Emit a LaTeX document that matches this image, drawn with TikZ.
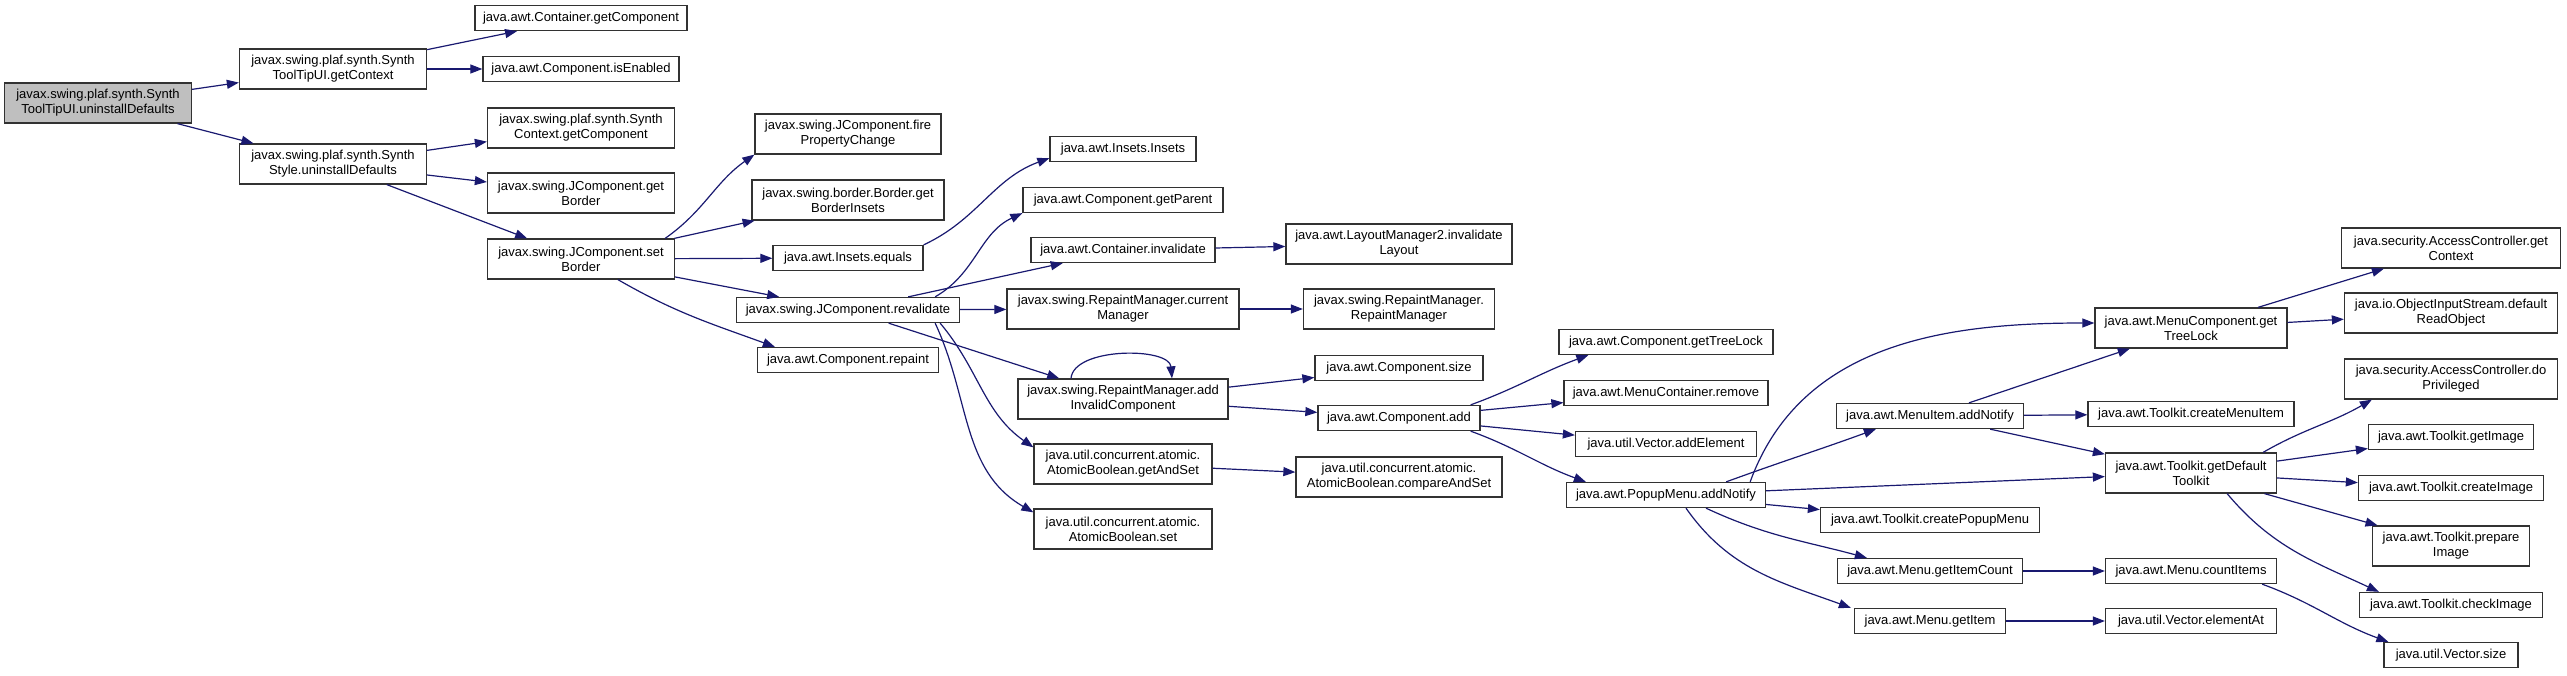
\documentclass[tikz,border=0pt]{standalone}
\usepackage{fontspec}
\setmainfont{Liberation Sans}
\usepackage{tikz}
\usetikzlibrary{arrows.meta}
\definecolor{midblue}{RGB}{25,25,112}
\definecolor{boxline}{RGB}{50,50,50}
\definecolor{rootgray}{RGB}{191,191,191}

\begin{document}
\begin{tikzpicture}[x=1pt,y=-1pt,font=\fontsize{13}{15}\selectfont]
\tikzstyle{fn}=[draw=boxline,line width=1.3pt,fill=white,inner sep=0pt,align=center]
\tikzstyle{fn1}=[fn,minimum height=25pt]
\tikzstyle{fn2}=[fn,minimum height=40pt]
\tikzstyle{root fn}=[fn2,fill=rootgray]
\tikzstyle{call}=[draw=midblue,line width=1.2pt,-{Triangle[length=12pt,width=9pt]}]

\useasboundingbox (0,0) rectangle (2567,675);

% column 1 and 2
\node(root)[root fn,minimum width=187pt] at (98,103) {javax.swing.plaf.synth.Synth\\ToolTipUI.uninstallDefaults};
\node(getctx)[fn2,minimum width=187pt] at (333,69) {javax.swing.plaf.synth.Synth\\ToolTipUI.getContext};
\node(sstyle)[fn2,minimum width=187pt] at (333,164) {javax.swing.plaf.synth.Synth\\Style.uninstallDefaults};

% column 3
\node(cgetcomp)[fn1,minimum width=212pt] at (581,18) {java.awt.Container.getComponent};
\node(isenabled)[fn1,minimum width=196pt] at (581,69) {java.awt.Component.isEnabled};
\node(scgetcomp)[fn2,minimum width=187pt] at (581,128) {javax.swing.plaf.synth.Synth\\Context.getComponent};
\node(getborder)[fn2,minimum width=187pt] at (581,193) {javax.swing.JComponent.get\\Border};
\node(setborder)[fn2,minimum width=187pt] at (581,259) {javax.swing.JComponent.set\\Border};

% column 4
\node(fireprop)[fn2,minimum width=186pt] at (848,134) {javax.swing.JComponent.fire\\PropertyChange};
\node(borderins)[fn2,minimum width=192pt] at (848,200) {javax.swing.border.Border.get\\BorderInsets};
\node(insequals)[fn1,minimum width=150pt] at (848,258) {java.awt.Insets.equals};
\node(revalidate)[fn1,minimum width=223pt] at (848,310) {javax.swing.JComponent.revalidate};
\node(repaint)[fn1,minimum width=181pt] at (848,360) {java.awt.Component.repaint};

% column 5
\node(insets)[fn1,minimum width=146pt] at (1123,149) {java.awt.Insets.Insets};
\node(getparent)[fn1,minimum width=200pt] at (1123,200) {java.awt.Component.getParent};
\node(cinvalidate)[fn1,minimum width=184pt] at (1123,250) {java.awt.Container.invalidate};
\node(curmgr)[fn2,minimum width=232pt] at (1123,309) {javax.swing.RepaintManager.current\\Manager};
\node(addinvalid)[fn2,minimum width=210pt] at (1123,399) {javax.swing.RepaintManager.add\\InvalidComponent};
\node(getandset)[fn2,minimum width=178pt] at (1123,464) {java.util.concurrent.atomic.\\AtomicBoolean.getAndSet};
\node(abset)[fn2,minimum width=178pt] at (1123,529) {java.util.concurrent.atomic.\\AtomicBoolean.set};

% column 6
\node(invlayout)[fn2,minimum width=226pt] at (1399,244) {java.awt.LayoutManager2.invalidate\\Layout};
\node(rmrm)[fn2,minimum width=191pt] at (1399,309) {javax.swing.RepaintManager.\\RepaintManager};
\node(csize)[fn1,minimum width=168pt] at (1399,368) {java.awt.Component.size};
\node(cadd)[fn1,minimum width=162pt] at (1399,418) {java.awt.Component.add};
\node(cas)[fn2,minimum width=206pt] at (1399,477) {java.util.concurrent.atomic.\\AtomicBoolean.compareAndSet};

% column 7
\node(gettreelock)[fn1,minimum width=214pt] at (1666,342) {java.awt.Component.getTreeLock};
\node(mcremove)[fn1,minimum width=204pt] at (1666,393) {java.awt.MenuContainer.remove};
\node(addelement)[fn1,minimum width=181pt] at (1666,444) {java.util.Vector.addElement};
\node(popupnotify)[fn1,minimum width=199pt] at (1666,495) {java.awt.PopupMenu.addNotify};

% column 8
\node(miaddnotify)[fn1,minimum width=187pt] at (1930,416) {java.awt.MenuItem.addNotify};
\node(createpopup)[fn1,minimum width=219pt] at (1930,520) {java.awt.Toolkit.createPopupMenu};
\node(getitemcount)[fn1,minimum width=185pt] at (1930,571) {java.awt.Menu.getItemCount};
\node(getitem)[fn1,minimum width=151pt] at (1930,621) {java.awt.Menu.getItem};

% column 9
\node(mcgettreelock)[fn2,minimum width=192pt] at (2191,328) {java.awt.MenuComponent.get\\TreeLock};
\node(createmenuitem)[fn1,minimum width=206pt] at (2191,414) {java.awt.Toolkit.createMenuItem};
\node(defaulttoolkit)[fn2,minimum width=171pt] at (2191,473) {java.awt.Toolkit.getDefault\\Toolkit};
\node(countitems)[fn1,minimum width=171pt] at (2191,571) {java.awt.Menu.countItems};
\node(elementat)[fn1,minimum width=171pt] at (2191,621) {java.util.Vector.elementAt};

% column 10
\node(acgetcontext)[fn2,minimum width=219pt] at (2451,248) {java.security.AccessController.get\\Context};
\node(readobject)[fn2,minimum width=213pt] at (2451,313) {java.io.ObjectInputStream.default\\ReadObject};
\node(doprivileged)[fn2,minimum width=213pt] at (2451,379) {java.security.AccessController.do\\Privileged};
\node(getimage)[fn1,minimum width=165pt] at (2451,437) {java.awt.Toolkit.getImage};
\node(createimage)[fn1,minimum width=185pt] at (2451,488) {java.awt.Toolkit.createImage};
\node(prepareimage)[fn2,minimum width=157pt] at (2451,546) {java.awt.Toolkit.prepare\\Image};
\node(checkimage)[fn1,minimum width=183pt] at (2451,605) {java.awt.Toolkit.checkImage};
\node(vectorsize)[fn1,minimum width=134pt] at (2451,655) {java.util.Vector.size};

% calls
\draw[call] (root) -- (getctx);
\draw[call] (root) -- (sstyle);
\draw[call] (getctx) -- (cgetcomp);
\draw[call] (getctx) -- (isenabled);
\draw[call] (sstyle) -- (scgetcomp);
\draw[call] (sstyle) -- (getborder);
\draw[call] (sstyle) -- (setborder);

\draw[call] ([xshift=-10pt]setborder.north east) to[out=35,in=215] (fireprop.south west);
\draw[call] (setborder) -- (borderins);
\draw[call] (setborder) -- (insequals);
\draw[call] (setborder) -- (revalidate);
\draw[call] ([xshift=37pt]setborder.south) to[out=-30,in=160] ([xshift=18pt]repaint.north west);

\draw[call] (insequals.north east) to[out=25,in=200] ([yshift=4pt]insets.south west);
\draw[call] ([xshift=-25pt]revalidate.north east) to[out=30,in=205] (getparent.south west);
\draw[call] (revalidate) -- (cinvalidate);
\draw[call] (revalidate) -- (curmgr);
\draw[call] (revalidate) -- (addinvalid);
\draw[call] ([xshift=-20pt]revalidate.south east) to[out=-50,in=145] ([yshift=-4pt]getandset.north west);
\draw[call] ([xshift=-25pt]revalidate.south east) to[out=-65,in=150] ([yshift=-4pt]abset.north west);

\draw[call] (cinvalidate) -- (invlayout);
\draw[call] (curmgr) -- (rmrm);
% recursive call
\draw[call] ([xshift=-52pt]addinvalid.north) to[out=85,in=95,looseness=0.8] ([xshift=49pt]addinvalid.north);
\draw[call] (addinvalid) -- (csize);
\draw[call] (addinvalid) -- (cadd);
\draw[call] (getandset) -- (cas);

\draw[call] ([xshift=-10pt]cadd.north east) to[out=20,in=200] ([xshift=30pt]gettreelock.south west);
\draw[call] (cadd) -- (mcremove);
\draw[call] (cadd) -- (addelement);
\draw[call] ([xshift=-10pt]cadd.south east) to[out=-20,in=160] ([xshift=20pt]popupnotify.north west);

\draw[call] ([xshift=-16pt]popupnotify.north east) to[out=70,in=180] ([yshift=5pt]mcgettreelock.west);
\draw[call] ([xshift=-40pt]popupnotify.north east) to[out=20,in=200] ([xshift=40pt]miaddnotify.south west);
\draw[call] (popupnotify) -- (defaulttoolkit);
\draw[call] (popupnotify) -- (createpopup);
\draw[call] ([xshift=40pt]popupnotify.south) to[out=-25,in=165] ([xshift=30pt]getitemcount.north west);
\draw[call] ([xshift=20pt]popupnotify.south) to[out=-55,in=160] ([xshift=-3pt]getitem.north west);

\draw[call] (miaddnotify) -- (mcgettreelock);
\draw[call] (miaddnotify) -- (createmenuitem);
\draw[call] (miaddnotify) -- (defaulttoolkit);

\draw[call] (mcgettreelock) -- (acgetcontext);
\draw[call] (mcgettreelock) -- (readobject);

\draw[call] ([xshift=-14pt]defaulttoolkit.north east) to[out=30,in=210] ([xshift=28pt]doprivileged.south west);
\draw[call] (defaulttoolkit) -- (getimage);
\draw[call] (defaulttoolkit) -- (createimage);
\draw[call] (defaulttoolkit) -- (prepareimage);
\draw[call] ([xshift=-50pt]defaulttoolkit.south east) to[out=-50,in=155] ([xshift=20pt]checkimage.north west);

\draw[call] (getitemcount) -- (countitems);
\draw[call] (getitem) -- (elementat);
\draw[call] ([xshift=-15pt]countitems.south east) to[out=-20,in=160] ([xshift=5pt]vectorsize.north west);

\end{tikzpicture}
\end{document}
